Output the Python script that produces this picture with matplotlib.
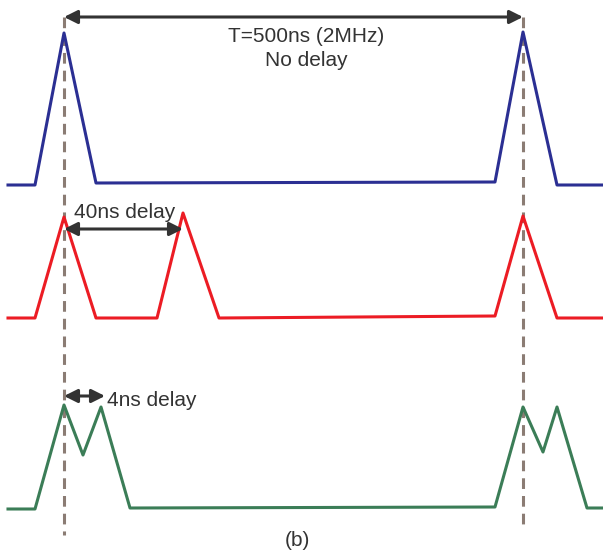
import matplotlib.pyplot as plt

# schematic pulse trains (x = time axis, y = level, screen-like units)
blue_x = [8, 35, 64, 96, 495, 523, 557, 603]
blue_y = [185, 185, 33, 183, 182, 32, 185, 185]

red_x = [8, 35, 64, 96, 157, 183, 219, 495, 523, 557, 603]
red_y = [318, 318, 217, 318, 318, 213, 318, 316, 216, 318, 318]

green_x = [8, 35, 64, 83, 101, 130, 495, 523, 543, 557, 587, 603]
green_y = [509, 509, 405, 455, 407, 508, 507, 407, 452, 407, 508, 508]

# reference markers
marker_x = [64, 523]
marker_top = [17, 17]
marker_bottom = [535, 527]

labels = ["T=500ns (2MHz)\nNo delay", "40ns delay", "4ns delay", "(b)"]

fig = plt.figure(figsize=(6.03, 5.54), dpi=100)
ax = fig.add_axes([0, 0, 1, 1])
ax.set_xlim(0, 603)
ax.set_ylim(554, 0)
ax.axis('off')

plt.rcParams['font.family'] = ['Liberation Sans', 'DejaVu Sans']

for x, y0, y1 in zip(marker_x, marker_top, marker_bottom):
    ax.plot([x, x], [y0, y1], color='#8b7c74', lw=2.2, ls=(0, (3.5, 2.3)), zorder=1)

ax.plot(blue_x, blue_y, color='#2b2f93', lw=2.2, zorder=2)
ax.plot(red_x, red_y, color='#ec1c24', lw=2.2, zorder=2)
ax.plot(green_x, green_y, color='#3b7d57', lw=2.2, zorder=2)

arrow = dict(arrowstyle='<|-|>', color='#333333', lw=2.2, mutation_scale=20,
             shrinkA=0, shrinkB=0)
ax.annotate('', xy=(64, 17), xytext=(523, 17), arrowprops=arrow, zorder=3)
ax.annotate('', xy=(64, 229), xytext=(183, 229), arrowprops=arrow, zorder=3)
ax.annotate('', xy=(64, 396), xytext=(105, 396), arrowprops=arrow, zorder=3)

txt = dict(color='#333333', fontsize=15)
ax.text(306, 36, labels[0].split('\n')[0], ha='center', va='center', **txt)
ax.text(306, 60, labels[0].split('\n')[1], ha='center', va='center', **txt)
ax.text(125, 212, labels[1], ha='center', va='center', **txt)
ax.text(107, 401, labels[2], ha='left', va='center', **txt)
ax.text(297, 541, labels[3], ha='center', va='center', **txt)

fig.savefig('out.png', dpi=100)
